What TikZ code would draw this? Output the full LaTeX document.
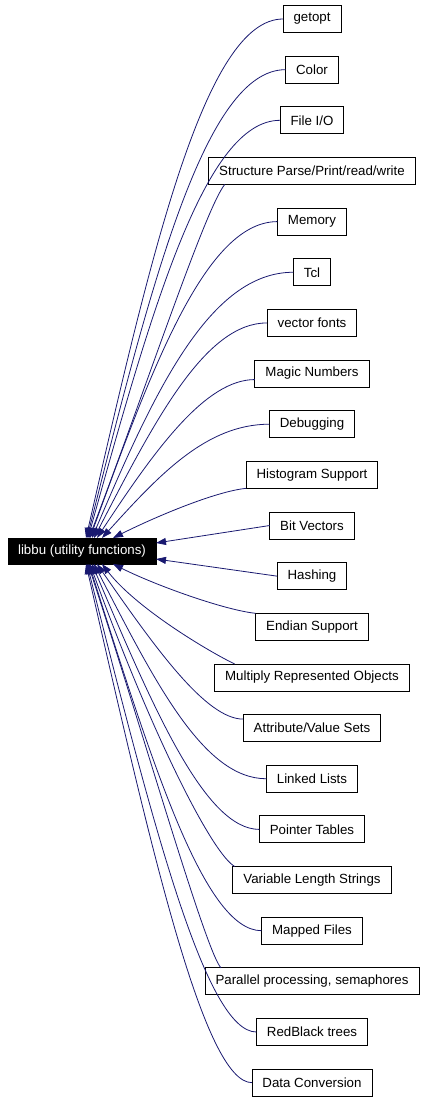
\documentclass[tikz,border=0pt]{standalone}
\usepackage{fontspec}
\setmainfont{Liberation Sans}
\usepackage{tikz}
\usetikzlibrary{arrows.meta, positioning}
\definecolor{depblue}{RGB}{25,25,112}
\newcommand{\docfont}{\fontsize{13.3}{16}\selectfont}
\tikzset{
  libbox/.style={rectangle, draw=black, fill=black, text=white,
                 minimum width=148pt, minimum height=26pt, outer sep=0pt,
                 font=\docfont, inner xsep=0pt},
  grpbox/.style={rectangle, draw=black, fill=white, line width=0.9pt,
                 minimum height=27pt, inner xsep=10.5pt, outer sep=0pt, font=\docfont},
  depline/.style={-{Triangle[length=10pt, width=7pt]}, color=depblue, line width=0.8pt},
}
\begin{document}
\begin{tikzpicture}[x=1pt, y=1pt]
  \useasboundingbox (0,0) rectangle (424,-1101);
  \node[libbox] (libbu) at (82,-551) {libbu (utility functions)};
  \node[grpbox] (getopt) at (312,-19) {getopt};
  \node[grpbox, below=23.65pt of getopt] (color) {Color};
  \node[grpbox, below=23.65pt of color] (fileio) {File I/O};
  \node[grpbox, below=23.65pt of fileio] (structio) {Structure Parse/Print/read/write};
  \node[grpbox, below=23.65pt of structio] (memory) {Memory};
  \node[grpbox, below=23.65pt of memory] (tcl) {Tcl};
  \node[grpbox, below=23.65pt of tcl] (vfont) {vector fonts};
  \node[grpbox, below=23.65pt of vfont] (magic) {Magic Numbers};
  \node[grpbox, below=23.65pt of magic] (debug) {Debugging};
  \node[grpbox, below=23.65pt of debug] (histogram) {Histogram Support};
  \node[grpbox, below=23.65pt of histogram] (bitv) {Bit Vectors};
  \node[grpbox, below=23.65pt of bitv] (hash) {Hashing};
  \node[grpbox, below=23.65pt of hash] (endian) {Endian Support};
  \node[grpbox, below=23.65pt of endian] (multirep) {Multiply Represented Objects};
  \node[grpbox, below=23.65pt of multirep] (avs) {Attribute/Value Sets};
  \node[grpbox, below=23.65pt of avs] (list) {Linked Lists};
  \node[grpbox, below=23.65pt of list] (ptbl) {Pointer Tables};
  \node[grpbox, below=23.65pt of ptbl] (vls) {Variable Length Strings};
  \node[grpbox, below=23.65pt of vls] (mapped) {Mapped Files};
  \node[grpbox, below=23.65pt of mapped] (parallel) {Parallel processing, semaphores};
  \node[grpbox, below=23.65pt of parallel] (redblack) {RedBlack trees};
  \node[grpbox, below=23.65pt of redblack] (conv) {Data Conversion};
  \draw[depline] (getopt.west) .. controls +(-78,0) and +(65,285) .. ([xshift=4pt]libbu.north);
  \draw[depline] (color.west) .. controls +(-80,0) and +(65,258) .. ([xshift=5pt]libbu.north);
  \draw[depline] (fileio.west) .. controls +(-75,0) and +(64,230) .. ([xshift=6pt]libbu.north);
  \draw[depline] ([xshift=16pt]structio.south west) .. controls +(-20,-25) and +(54,141) .. ([xshift=7pt]libbu.north);
  \draw[depline] (memory.west) .. controls +(-71,0) and +(63,174) .. ([xshift=8pt]libbu.north);
  \draw[depline] (tcl.west) .. controls +(-84,0) and +(62,146) .. ([xshift=10pt]libbu.north);
  \draw[depline] (vfont.west) .. controls +(-62,0) and +(61,118) .. ([xshift=12pt]libbu.north);
  \draw[depline] ([yshift=-6pt]magic.west) .. controls +(-49,0) and +(59,90) .. ([xshift=15pt]libbu.north);
  \draw[depline] (debug.west) .. controls +(-63,0) and +(57,63) .. ([xshift=20pt]libbu.north);
  \draw[depline] (histogram.south west) .. controls +(-30,-3) and +(44,22) .. ([xshift=31pt]libbu.north);
  \draw[depline] (bitv.west) -- ([yshift=8pt]libbu.east);
  \draw[depline] (hash.west) -- ([yshift=-8pt]libbu.east);
  \draw[depline] (endian.north west) .. controls +(-30,3) and +(44,-22) .. ([xshift=31pt]libbu.south);
  \draw[depline] ([xshift=20pt]multirep.north west) .. controls +(-25,12) and +(35,-45) .. ([xshift=20pt]libbu.south);
  \draw[depline] ([yshift=9pt]avs.west) .. controls +(-37,0) and +(59,-85) .. ([xshift=15pt]libbu.south);
  \draw[depline] (list.west) .. controls +(-63,0) and +(61,-118) .. ([xshift=12pt]libbu.south);
  \draw[depline] (ptbl.west) .. controls +(-54,0) and +(62,-146) .. ([xshift=10pt]libbu.south);
  \draw[depline] ([xshift=2pt]vls.north west) .. controls +(-22,12) and +(63,-174) .. ([xshift=8pt]libbu.south);
  \draw[depline] (mapped.west) .. controls +(-57,0) and +(64,-202) .. ([xshift=7pt]libbu.south);
  \draw[depline] ([xshift=16pt]parallel.north west) .. controls +(-15,15) and +(53,-161) .. ([xshift=6pt]libbu.south);
  \draw[depline] (redblack.west) .. controls +(-51,0) and +(65,-257) .. ([xshift=5pt]libbu.south);
  \draw[depline] (conv.west) .. controls +(-48,0) and +(65,-285) .. ([xshift=4pt]libbu.south);
\end{tikzpicture}
\end{document}
